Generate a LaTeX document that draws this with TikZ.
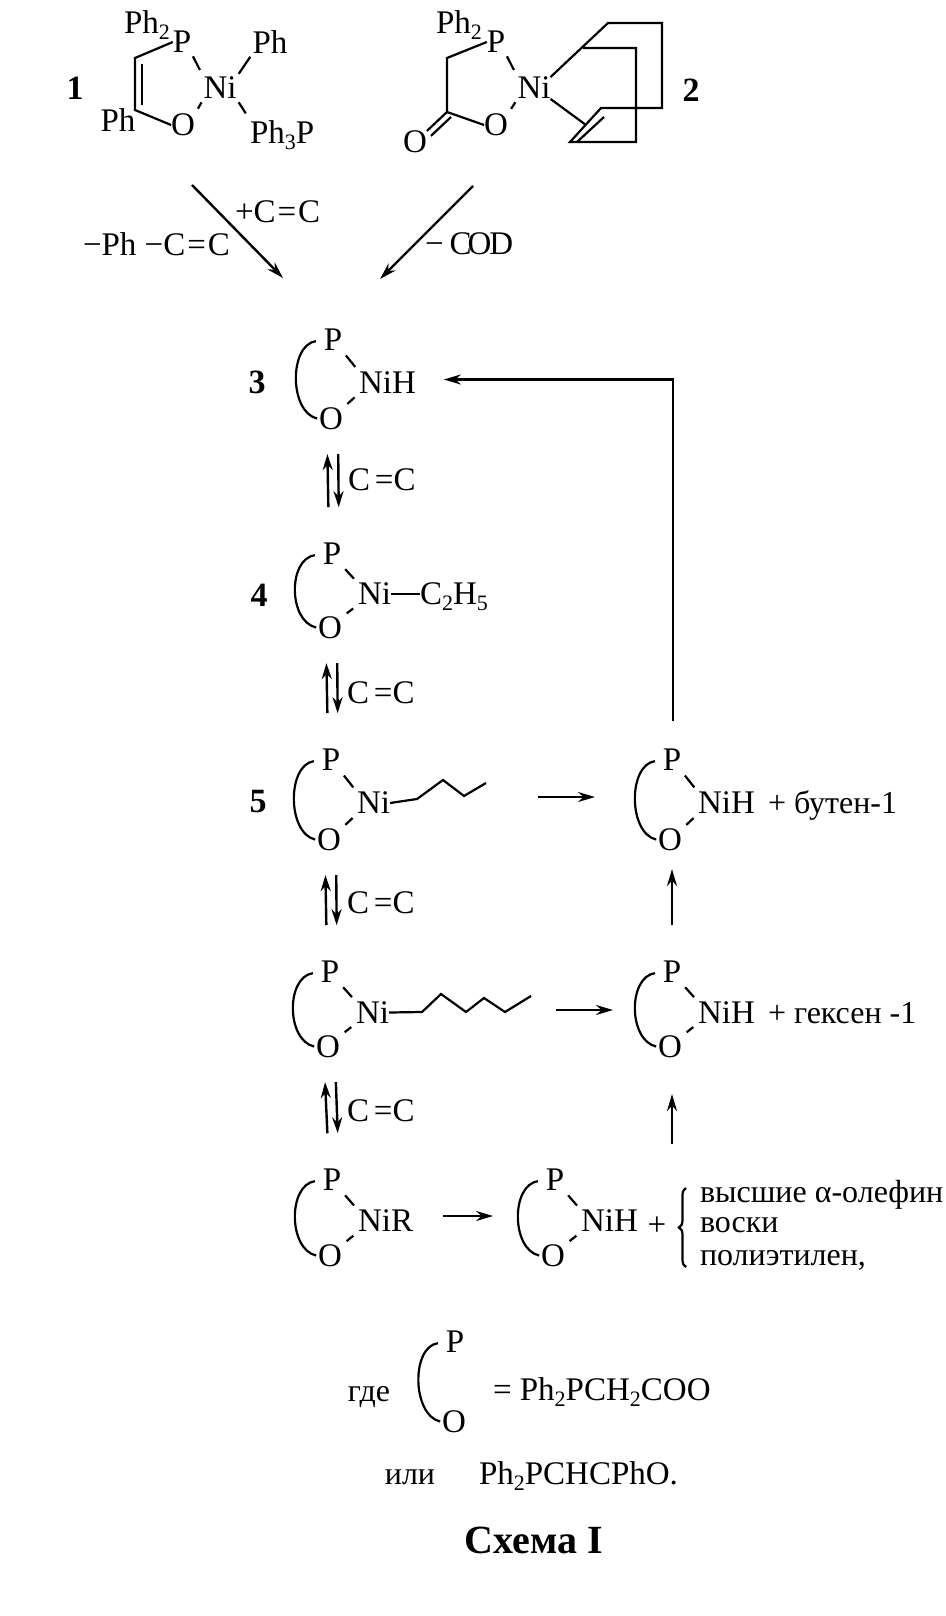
\documentclass[tikz,border=0pt]{standalone}
\usepackage{fontspec}
\setmainfont{Liberation Serif}
\usepackage{tikz}
\usetikzlibrary{calc,arrows.meta,decorations.pathreplacing}
\newcommand{\lowidx}[1]{\raisebox{-3pt}{\fontsize{11}{11}\selectfont #1}}
\newcommand{\dblcc}{C\kern2.5pt=C}
\newcommand{\chelate}[5]{%
  \node (#1P) at (#2,#3) {P};
  \node (#1O) at ($(#2,#4)+(-2,0)$) {O};
  \node[anchor=west] (#1Ni) at ($(#2,#3)!0.5!(#2,#4)+(26,3)$) {#5};
  \draw[bond, shorten <=4pt, shorten >=1pt] (#1P.west) .. controls +(-35,5) and +(-30,-7) .. (#1O.west);
  \draw[bond, shorten <=3pt, shorten >=3pt] (#1P.south east) -- (#1Ni.north west);
  \draw[bond, shorten <=3pt, shorten >=3pt] (#1O.north east) -- (#1Ni.south west);
}
\newcommand{\equil}[2]{%
  \draw[eqar, shorten <=18pt, shorten >=12pt] ([xshift=-1.5pt]#2P.north) -- ([xshift=-2pt]#1O.south);
  \draw[eqar, shorten <=12pt, shorten >=18pt] ([xshift=3.5pt]#1O.south) -- ([xshift=3.5pt]#2P.north);
}
\begin{document}
\begin{tikzpicture}[x=0.5pt, y=-0.5pt,
    every node/.style={inner sep=0pt, outer sep=0pt, font=\fontsize{16.5}{18}\selectfont},
    bond/.style={line width=1.1pt},
    rxn/.style={line width=1.2pt, -{Stealth[length=8.5pt,width=5pt]}},
    eqar/.style={line width=1.2pt, -{Stealth[length=8pt,width=5pt]}},
    rus/.style={font=\fontsize{16}{18}\selectfont},
    num/.style={font=\fontsize{17}{18}\selectfont\bfseries}]
    \useasboundingbox (0,0) rectangle (946,1616);

    \node[num] (n1) at (75,88) {1};
    \node[anchor=west] (ph2a) at (124,25) {Ph\lowidx{2}};
    \node (pa) at (182,42) {P};
    \node (nia) at (220,88) {Ni};
    \node (oa) at (183,125) {O};
    \node (pha) at (270,42) {Ph};
    \node (phb) at (118,120) {Ph};
    \node[anchor=west] (ph3) at (250,135) {Ph\lowidx{3}P};
    \coordinate (ca1) at (135,58);
    \coordinate (ca2) at (135,110);
    \draw[bond] (pa.west) -- (ca1) -- (ca2) -- (oa.west);
    \draw[bond] ($(ca1)+(7,6)$) -- ($(ca2)+(7,-5)$);
    \draw[bond, shorten <=2pt, shorten >=4pt] (pa.south east) -- (nia.north west);
    \draw[bond, shorten <=3pt, shorten >=2pt] (oa.north east) -- (nia.south west);
    \draw[bond, shorten <=2pt, shorten >=2pt] (nia.north east) -- (pha.south west);
    \draw[bond, shorten <=2pt, shorten >=3pt] (nia.south east) -- ($(ph3.north west)+(-1,-2)$);

    \node[anchor=west] (ph2b) at (436,25) {Ph\lowidx{2}};
    \node (pb) at (496,42) {P};
    \node (nib) at (534,88) {Ni};
    \node (ob) at (496,125) {O};
    \node (oc) at (415,142) {O};
    \node[num] (n2) at (691,90) {2};
    \coordinate (cb1) at (447,58);
    \coordinate (cb2) at (447,112);
    \draw[bond] (pb.west) -- (cb1) -- (cb2) -- (ob.west);
    \draw[bond] (oc.north east) -- (cb2);
    \draw[bond] ($(oc.north east)+(4,5)$) -- ($(cb2)+(4,5)$);
    \draw[bond, shorten <=2pt, shorten >=4pt] (pb.south east) -- (nib.north west);
    \draw[bond, shorten <=3pt, shorten >=2pt] (ob.north east) -- (nib.south west);
    \draw[bond] (nib.north east) -- (608,23) -- (662,23) -- (662,108) -- (601,108) -- (570,142) -- (636,142) -- (636,48) -- (583,48);
    \draw[bond] (nib.south east) -- (586,125);
    \draw[bond] (604,117) -- (577,142);

    \coordinate (ar1a) at (192,185);
    \coordinate (ar1b) at (283,278);
    \coordinate (ar2a) at (473,186);
    \coordinate (ar2b) at (380,279);
    \draw[rxn] (ar1a) -- (ar1b);
    \draw[rxn] (ar2a) -- (ar2b);
    \node[anchor=west] (lpl) at (235,212) {+C\kern1pt=\kern1ptC};
    \node[anchor=west] (lmi) at (83,244) {−Ph −C\kern1pt=\kern1ptC};
    \node[anchor=west] (lcod) at (425,244) {−\kern3pt C\kern-2ptO\kern-1ptD};

    \chelate{c}{333}{340}{419}{NiH}
    \node[num] (n3) at (257,382) {3};
    \chelate{d}{332}{554}{628}{Ni}
    \node[num] (n4) at (259,595) {4};
    \node[anchor=west] (et) at (420,597) {C\lowidx{2}H\lowidx{5}};
    \draw[bond] (dNi.east) -- (et.west |- dNi.east);
    \chelate{e}{331}{760}{840}{Ni}
    \node[num] (n5) at (258,802) {5};
    \draw[bond] (eNi.east) -- (417,799) -- (443,780) -- (464,796) -- (486,783);
    \chelate{f}{330}{972}{1047}{Ni}
    \draw[bond] (fNi.east) -- (422,1012) -- (441,994) -- (466,1012) -- (484,998) -- (505,1012) -- (531,996);
    \chelate{g}{332}{1180}{1256}{NiR}

    \equil{c}{d}
    \equil{d}{e}
    \equil{e}{f}
    \equil{f}{g}
    \node[anchor=west] (cc1) at (348,480) {\dblcc};
    \node[anchor=west] (cc2) at (347,693) {\dblcc};
    \node[anchor=west] (cc3) at (347,903) {\dblcc};
    \node[anchor=west] (cc4) at (347,1111) {\dblcc};

    \chelate{h}{672}{760}{840}{NiH}
    \node[rus, anchor=west] (but) at (768,805) {+ бутен-1};
    \chelate{i}{672}{972}{1047}{NiH}
    \node[rus, anchor=west] (gex) at (768,1013) {+ гексен -1};
    \chelate{j}{555}{1180}{1256}{NiH}

    \coordinate (ar5a) at (538,797);
    \coordinate (ar5b) at (595,797);
    \coordinate (ar6a) at (556,1010);
    \coordinate (ar6b) at (613,1010);
    \draw[rxn] (ar5a) -- (ar5b);
    \draw[rxn] (ar6a) -- (ar6b);
    \draw[rxn, shorten <=15pt, shorten >=24pt] ([yshift=2.5pt]gNi.east) -- ([yshift=2.5pt]gNi.east -| jO.west);
    \node[rus, anchor=west] (ol) at (700,1195) {высшие α-олефин};
    \node[rus, anchor=west] (vo) at (700,1225) {воски};
    \node[rus, anchor=west] (pe) at (700,1260) {полиэтилен,};
    \draw[rxn, shorten <=18pt, shorten >=9pt] (iP.north) -- (iP.north |- hO.south);
    \draw[rxn, shorten <=18.5pt, shorten >=18pt] (iP.north |- ol.north) -- (iP.north |- iO.south);
    \draw[rxn, shorten <=14pt, shorten >=14pt] ([xshift=0.5pt]hP.north) |- ([yshift=1.5pt]cNi.east);

    \node (pls) at (657,1226) {+};
    \draw[bond, decorate, decoration={brace,amplitude=3.5pt}] (686,1267) -- (686,1188);

    \node[rus] (gde) at (369,1397) {где};
    \node (lp) at (455,1342) {P};
    \node (lo) at (454,1422) {O};
    \draw[bond, shorten <=4pt, shorten >=1pt] (lp.west) .. controls +(-35,5) and +(-30,-7) .. (lo.west);
    \node[anchor=west] (leq) at (493,1392) {= Ph\lowidx{2}PCH\lowidx{2}COO};
    \node[rus] (ili) at (410,1477) {или};
    \node[anchor=west] (lph) at (479,1476) {Ph\lowidx{2}PCHCPhO.};
    \node[font=\fontsize{20}{22}\selectfont\bfseries] (cap) at (534,1540) {Схема I};
  \end{tikzpicture}
\end{document}
